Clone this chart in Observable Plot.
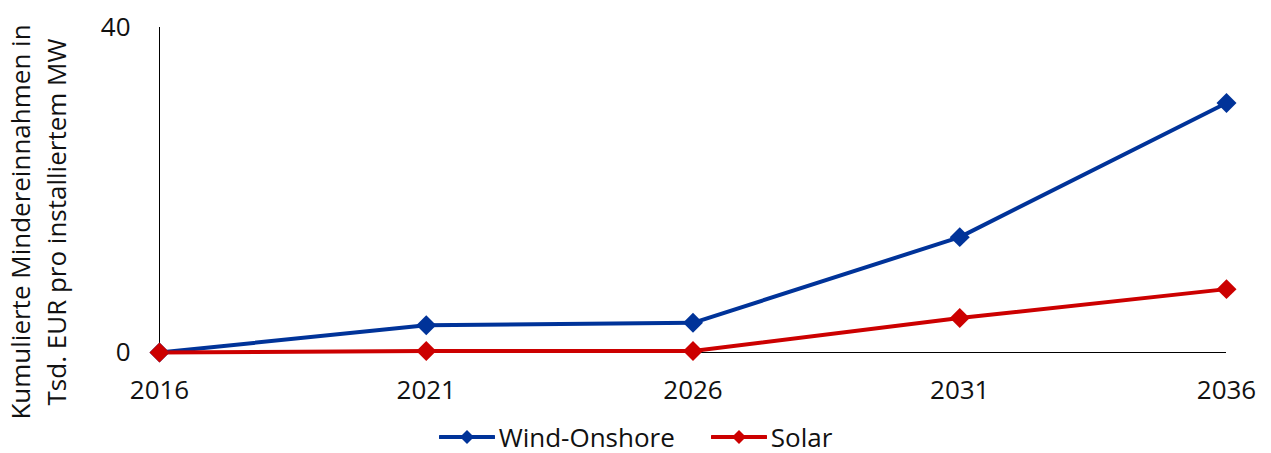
<!DOCTYPE html>
<html><head><meta charset="utf-8">
<script src="https://cdn.jsdelivr.net/npm/d3@7"></script>
<script src="https://cdn.jsdelivr.net/npm/@observablehq/plot@0.6"></script>
<style>
html,body{margin:0;padding:0;background:#fff;}
body{font-family:"Open Sans",sans-serif;width:1271px;height:453px;overflow:hidden;}
#legend{display:flex;justify-content:center;align-items:center;height:33px;font-size:26px;color:#111;}
.item{display:flex;align-items:center;margin:0 18px;}
.item svg{margin-right:4px;}
</style></head><body>
<div id="chart"></div>
<div id="legend"></div>
<script>
const years = [2016, 2021, 2026, 2031, 2036];
const windOnshore = [0, 3.35, 3.65, 14.2, 30.7];
const solar = [0, 0.18, 0.18, 4.25, 7.8];
const yTicks = [0, 40];
const seriesNames = ["Wind-Onshore", "Solar"];
const seriesColors = ["#003399", "#CC0000"];
const yTitle = "Kumulierte Mindereinnahmen in\nTsd. EUR pro installiertem MW";

const seriesValues = [windOnshore, solar];
const data = [];
seriesNames.forEach((s, i) => years.forEach((yr, j) => data.push({series: s, year: yr, value: seriesValues[i][j]})));

const font = "'Open Sans', sans-serif";
const chart = Plot.plot({
  width: 1271, height: 420,
  marginLeft: 159, marginRight: 45, marginTop: 27, marginBottom: 68,
  style: {fontSize: "26px", fontFamily: font, color: "#111", background: "#fff"},
  x: {domain: [2016, 2036]},
  y: {domain: [0, 40]},
  color: {domain: seriesNames, range: seriesColors},
  marks: [
    Plot.axisX({ticks: years, tickFormat: d => String(d), tickSize: 0, tickPadding: 28, label: null}),
    Plot.axisY({ticks: yTicks, tickSize: 0, tickPadding: 29, label: null}),
    Plot.ruleY([0], {stroke: "#000", strokeWidth: 1}),
    Plot.ruleX([2016], {y1: 0, y2: 40, stroke: "#000", strokeWidth: 1}),
    Plot.line(data, {x: "year", y: "value", z: "series", stroke: "series", strokeWidth: 4}),
    Plot.dot(data, {x: "year", y: "value", fill: "series", symbol: "diamond2", r: 9, stroke: null}),
    Plot.text([yTitle], {frameAnchor: "left", textAnchor: "middle", lineAnchor: "middle", dx: -123, dy: 32, rotate: -90, lineHeight: 1.4, fontSize: 26, fill: "#111"})
  ]
});
document.getElementById("chart").appendChild(chart);

const legend = document.getElementById("legend");
seriesNames.forEach((s, i) => {
  const item = document.createElement("div");
  item.className = "item";
  item.innerHTML = `<svg width="56" height="20"><line x1="1" x2="55" y1="10" y2="10" stroke="${seriesColors[i]}" stroke-width="4" stroke-linecap="round"/><path d="M28,3 L35,10 L28,17 L21,10 Z" fill="${seriesColors[i]}"/></svg><span>${s}</span>`;
  legend.appendChild(item);
});
</script>
</body></html>
